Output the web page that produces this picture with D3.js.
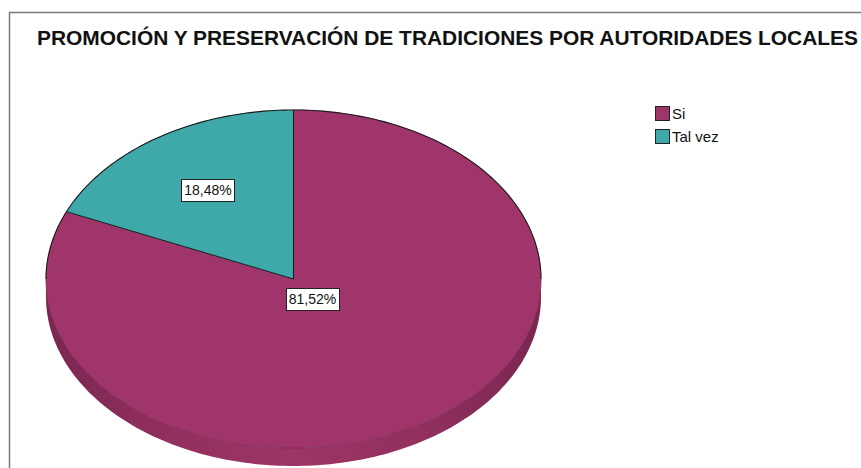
<!DOCTYPE html>
<html>
<head>
<meta charset="utf-8">
<script src="https://cdn.jsdelivr.net/npm/d3@7"></script>
<style>
  html, body { margin: 0; padding: 0; background: #fff; }
  svg { display: block; font-family: Arial, "Liberation Sans", sans-serif; }
</style>
</head>
<body>
<svg id="chart" width="861" height="468"></svg>
<script>
const title = "PROMOCIÓN Y PRESERVACIÓN DE TRADICIONES POR AUTORIDADES LOCALES";
const categories = ["Si", "Tal vez"];
const values = [81.52, 18.48];
const labels = ["81,52%", "18,48%"];
const colors = ["#A0356B", "#3FA8A9"];

const svg = d3.select("#chart");

// frame
svg.append("rect").attr("x", 9.5).attr("y", 12.5).attr("width", 900).attr("height", 500)
  .attr("fill", "#fff").attr("stroke", "#7a7a7a").attr("stroke-width", 1.5);

svg.append("text").attr("x", 37).attr("y", 45)
  .attr("font-size", 21).attr("font-weight", "bold").attr("fill", "#111")
  .attr("textLength", 821).attr("lengthAdjust", "spacingAndGlyphs")
  .text(title);

const cx = 293.5, cy = 279, rx = 247.5, ry = 169, depth = 18;
const k = ry / rx;

const pie = d3.pie().sort(null).value(d => d)(values);
const arc = d3.arc().innerRadius(0).outerRadius(rx);
const color = d3.scaleOrdinal().domain(categories).range(colors);

const defs = svg.append("defs");
const grad = defs.append("linearGradient").attr("id", "sideGrad")
  .attr("x1", "0").attr("x2", "1").attr("y1", "0").attr("y2", "0");
[["0%", "#7a2651"], ["25%", "#92305e"], ["50%", "#9d3567"], ["75%", "#92305e"], ["100%", "#7a2651"]]
  .forEach(([o, c]) => grad.append("stop").attr("offset", o).attr("stop-color", c));

const ex = t => cx + rx * Math.cos(t);
const ey = (t, dy) => cy + dy - ry * Math.sin(t);

// side of the disc (front half), part of the Si slice
const sp = d3.path();
const N = 160;
sp.moveTo(ex(Math.PI), ey(Math.PI, 0));
for (let i = 0; i <= N; i++) { const t = Math.PI + Math.PI * i / N; sp.lineTo(ex(t), ey(t, depth)); }
for (let i = N; i >= 0; i--) { const t = Math.PI + Math.PI * i / N; sp.lineTo(ex(t), ey(t, 0)); }
sp.closePath();
svg.append("path").attr("d", sp.toString()).attr("fill", "url(#sideGrad)");

// top face
const g = svg.append("g").attr("transform", `translate(${cx},${cy}) scale(1,${k})`);
g.selectAll("path.slice").data(pie).join("path")
  .attr("class", "slice")
  .attr("d", arc)
  .attr("fill", (d, i) => color(categories[i]))
  .attr("stroke", (d, i) => color(categories[i])).attr("stroke-width", 0.5)
  .attr("vector-effect", "non-scaling-stroke");

// radial separators
pie.forEach(d => {
  svg.append("line").attr("x1", cx).attr("y1", cy)
    .attr("x2", cx + rx * Math.sin(d.startAngle)).attr("y2", cy - ry * Math.cos(d.startAngle))
    .attr("stroke", "#1a1a1a").attr("stroke-width", 1);
});

// outline: dark upper half, subtle lower half
const up = d3.path();
up.moveTo(ex(Math.PI) , ey(Math.PI, 0));
for (let i = 0; i <= N; i++) { const t = Math.PI - Math.PI * i / N; up.lineTo(ex(t), ey(t, 0)); }
svg.append("path").attr("d", up.toString()).attr("fill", "none")
  .attr("stroke", "#1a1a1a").attr("stroke-width", 1.1);
const lo = d3.path();
lo.moveTo(ex(Math.PI), ey(Math.PI, 0));
for (let i = 0; i <= N; i++) { const t = Math.PI + Math.PI * i / N; lo.lineTo(ex(t), ey(t, 0)); }
svg.append("path").attr("d", lo.toString()).attr("fill", "none")
  .attr("stroke", "#6a1f45").attr("stroke-width", 0.8).attr("stroke-opacity", 0.6);

// labels
const labelFactor = [0.14, 0.63];
pie.forEach((d, i) => {
  const a = (d.startAngle + d.endAngle) / 2;
  const x = cx + labelFactor[i] * rx * Math.sin(a);
  const y = cy - labelFactor[i] * ry * Math.cos(a);
  const t = svg.append("text").attr("x", x).attr("y", y + 5)
    .attr("text-anchor", "middle").attr("font-size", 14).attr("fill", "#111")
    .text(labels[i]);
  const bb = t.node().getBBox();
  svg.insert("rect", () => t.node())
    .attr("x", Math.round(bb.x - 3) + 0.5).attr("y", Math.round(y - 11) + 0.5)
    .attr("width", Math.round(bb.width + 6)).attr("height", 22)
    .attr("fill", "#fff").attr("stroke", "#222").attr("stroke-width", 1);
});

// legend
const leg = svg.append("g");
categories.forEach((c, i) => {
  const y = 106 + i * 23;
  leg.append("rect").attr("x", 655.5).attr("y", y + 0.5).attr("width", 14).attr("height", 14)
    .attr("fill", color(c)).attr("stroke", "#222").attr("stroke-width", 1);
  leg.append("text").attr("x", 672).attr("y", y + 13)
    .attr("font-size", 15).attr("fill", "#111").text(c);
});
</script>
</body>
</html>
